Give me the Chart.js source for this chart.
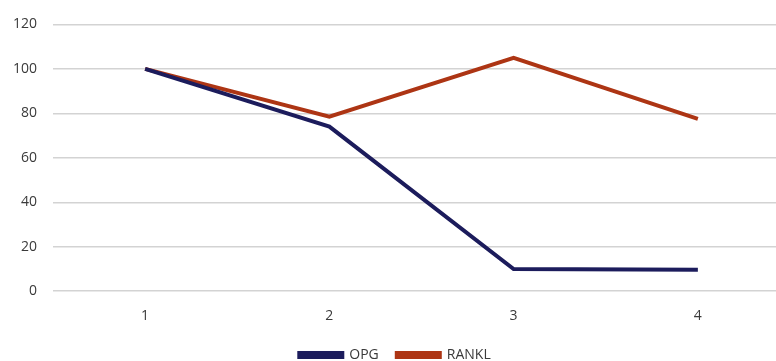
<!DOCTYPE html>
<html>
<head>
<meta charset="utf-8">
<script src="https://cdn.jsdelivr.net/npm/chart.js@4/dist/chart.umd.min.js"></script>
<style>
	html, body { margin: 0; padding: 0; background: #fff; overflow: hidden; }
	#wrap { width: 790px; height: 361px; position: relative; }
</style>
</head>
<body>
<div id="wrap"><canvas id="chart"></canvas></div>
<script>
	'use strict';

	// Chart data.
	var categories = [ '1', '2', '3', '4' ];
	var opgValues = [ 100, 74, 10, 9.6 ];
	var ranklValues = [ 100, 78.5, 105, 77.5 ];
	var yMin = 0;
	var yMax = 120;
	var yStep = 20;

	var textColor = '#3a3a3a';
	var fontFamily = '"Open Sans", "Liberation Sans", sans-serif';

	new Chart( document.getElementById( 'chart' ), {
		type: 'line',
		data: {
			labels: categories,
			datasets: [ {
				label: 'OPG',
				data: opgValues,
				borderColor: '#1c1c5c',
				backgroundColor: '#1c1c5c',
				borderWidth: 4,
				pointRadius: 0,
				tension: 0
			}, {
				label: 'RANKL',
				data: ranklValues,
				borderColor: '#ad3514',
				backgroundColor: '#ad3514',
				borderWidth: 4,
				pointRadius: 0,
				tension: 0
			} ]
		},
		options: {
			responsive: true,
			maintainAspectRatio: false,
			animation: false,
			layout: {
				padding: { left: 0, top: 14, right: 0, bottom: -11 }
			},
			plugins: {
				legend: {
					position: 'bottom',
					labels: {
						boxWidth: 43,
						boxHeight: 4,
						padding: 18,
						color: textColor,
						font: { family: fontFamily, size: 14 }
					}
				},
				tooltip: { enabled: false }
			},
			scales: {
				y: {
					min: yMin,
					max: yMax,
					afterFit: function( axis ) {
						axis.width = 53;
					},
					ticks: {
						stepSize: yStep,
						padding: 16,
						color: textColor,
						font: { family: fontFamily, size: 14 }
					},
					grid: {
						color: '#d3d3d3',
						lineWidth: 1.5,
						drawTicks: false
					},
					border: { display: false }
				},
				x: {
					offset: true,
					afterFit: function( axis ) {
						axis.height = axis.height - 10;
					},
					ticks: {
						padding: 16,
						color: textColor,
						font: { family: fontFamily, size: 14 }
					},
					grid: { display: false, drawTicks: false },
					border: { display: false }
				}
			}
		}
	} );
</script>
</body>
</html>
